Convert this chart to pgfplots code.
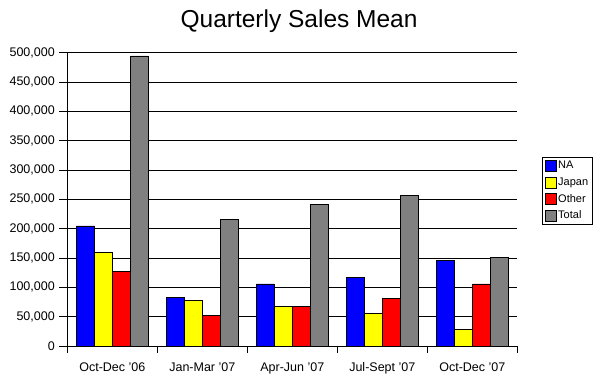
\documentclass[border=0pt]{standalone}
\usepackage{fontspec}
\setmainfont{Liberation Sans}
\usepackage{pgfplots}
\pgfplotsset{compat=1.18}
\definecolor{naBlue}{RGB}{0,0,255}
\definecolor{jpYellow}{RGB}{255,255,0}
\definecolor{otRed}{RGB}{255,0,0}
\definecolor{totGray}{RGB}{128,128,128}
\pgfplotsset{
  mybar/.style={draw=black, line width=0.7pt,
    legend image code/.code={\draw[##1, line width=0.7pt] (0pt,-5.5pt) rectangle (11pt,5.5pt);}},
}
\begin{document}
\begin{tikzpicture}
\useasboundingbox (0,0) rectangle (604pt,377pt);
\begin{axis}[
  at={(67.3pt,31pt)}, anchor=south west,
  scale only axis, width=450pt, height=293.3pt,
  xmin=0, xmax=5, ymin=0, ymax=500000,
  axis x line=bottom, axis y line=left,
  axis line style={-, black, line width=0.8pt},
  ybar, bar width=18pt,
  xtick={0.5,1.5,2.5,3.5,4.5},
  xticklabels={Oct-Dec '06, Jan-Mar '07, Apr-Jun '07, Jul-Sept '07, Oct-Dec '07},
  xtick style={draw=none},
  extra x ticks={0,1,2,3,4,5},
  extra x tick labels={},
  extra x tick style={xtick style={draw=black, line width=0.8pt}, major tick length=7pt, tick align=outside},
  ytick={0,50000,...,500000},
  scaled y ticks=false,
  ytick style={draw=black, line width=0.8pt},
  major tick length=8pt, tick align=outside,
  ymajorgrids, major grid style={black, line width=0.8pt},
  /pgf/number format/.cd, fixed, 1000 sep={,}, assume math mode=true, /pgfplots/.cd,
  yticklabel style={font=\fontsize{12.5pt}{14pt}\selectfont, anchor=east, xshift=-1pt},
  xticklabel style={font=\fontsize{12.5pt}{14pt}\selectfont, anchor=base, yshift=-17pt},
  title={Quarterly Sales Mean},
  title style={at={(0.515,1)}, anchor=base, yshift=19.4pt, font=\fontsize{24.5pt}{28pt}\selectfont},
  legend style={at={(1.054,0.643)}, anchor=north west, draw=black, line width=0.8pt,
    font=\fontsize{11pt}{12pt}\selectfont, inner xsep=2.5pt, inner ysep=2pt, row sep=4.7pt,
    nodes={inner xsep=2pt, inner ysep=1pt, text height=8pt, text depth=2pt}},
  legend cell align=left,
]
\addplot[mybar, fill=naBlue, bar shift=-27pt] coordinates {(0.5,204600) (1.5,83500) (2.5,105700) (3.5,117600) (4.5,146600)};
\addplot[mybar, fill=jpYellow, bar shift=-9pt] coordinates {(0.5,159700) (1.5,78400) (2.5,67600) (3.5,55700) (4.5,28400)};
\addplot[mybar, fill=otRed, bar shift=9pt] coordinates {(0.5,127800) (1.5,52300) (2.5,67600) (3.5,81800) (4.5,105700)};
\addplot[mybar, fill=totGray, bar shift=27pt] coordinates {(0.5,494400) (1.5,216000) (2.5,242000) (3.5,256800) (4.5,151200)};
\legend{NA, Japan, Other, Total}
\end{axis}
\end{tikzpicture}
\end{document}
